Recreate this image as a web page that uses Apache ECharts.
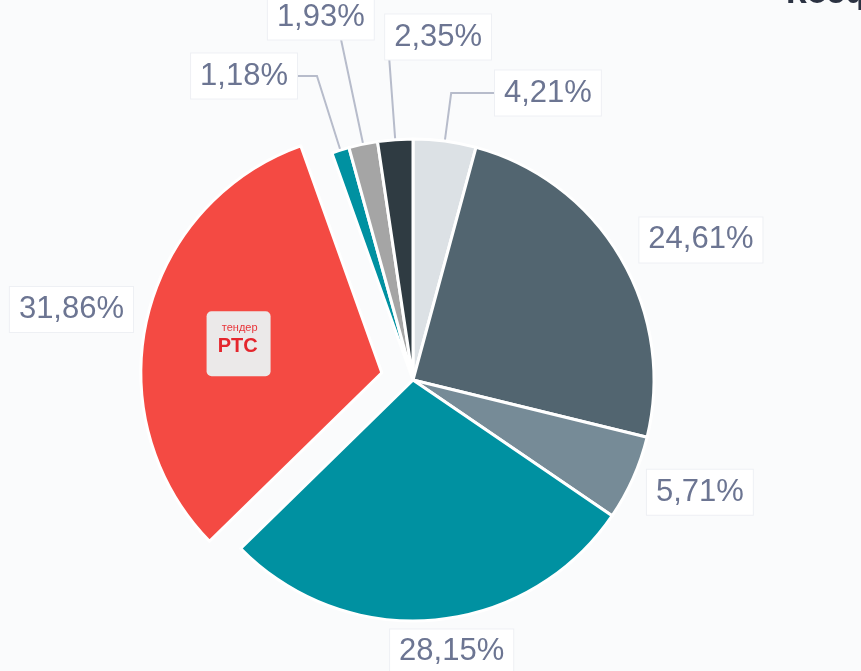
<!DOCTYPE html>
<html>
<head>
<meta charset="utf-8">
<script src="https://cdn.jsdelivr.net/npm/echarts@6/dist/echarts.min.js"></script>
<style>
html,body{margin:0;padding:0;background:#fafbfc;}
#c{width:861px;height:671px;}
</style>
</head>
<body>
<div id="c"></div>
<script>
// ---- data ----
var categories = ['Площадка 1','Площадка 2','Площадка 3','Площадка 4','РТС-тендер','Площадка 6','Площадка 7','Площадка 8'];
var values = [4.21, 24.61, 5.71, 28.15, 31.86, 1.18, 1.93, 2.35];
var titleText = 'Коэффициент';

// ---- styles (per slice) ----
var colors = ['#dce1e5','#526570','#768b97','#0091a1','#f44a43','#0091a1','#a5a5a5','#2f3b42'];
var lineLen  = [48.5, 34.6, 34.4, 32, 40.4, 77.8, 130, 102.9];
var lineLen2 = [43.8, -11, -17.6, -46.8, -25.4, 20, -37.5, -103.4];
var lineShow = [true, false, false, false, false, true, true, true];
var explodedIndex = 4;

var chart = echarts.init(document.getElementById('c'), null, {renderer:'canvas'});

var mainData = values.map(function(v, i){
  return {
    name: categories[i], value: v, selected: i === explodedIndex,
    itemStyle: {color: colors[i]},
    labelLine: {show: lineShow[i], length: lineLen[i], length2: lineLen2[i]}
  };
});
var logoData = values.map(function(v, i){
  return {
    name: categories[i], value: v, selected: i === explodedIndex,
    label: {show: i === explodedIndex}
  };
});

chart.setOption({
  animation: false,
  backgroundColor: '#fafbfc',
  graphic: [{
    type: 'text',
    style: {text: titleText, x: 786, y: -6, verticalAlign: 'middle', align: 'left',
            font: 'bold 34px "Liberation Sans", Arial, sans-serif', fill: '#2b3242'}
  }],
  series: [{
    type: 'pie',
    center: [413, 380],
    radius: [0, 241],
    startAngle: 90,
    clockwise: true,
    avoidLabelOverlap: false,
    selectedMode: 'single',
    selectedOffset: 32,
    itemStyle: {borderColor: '#ffffff', borderWidth: 3},
    label: {
      show: true,
      position: 'outside',
      distanceToLabelLine: 0,
      formatter: function(p){ return p.value.toFixed(2).replace('.', ',') + '%'; },
      fontFamily: '"Liberation Sans", Arial, sans-serif',
      fontSize: 31,
      lineHeight: 31,
      color: '#6c7592',
      backgroundColor: '#ffffff',
      borderColor: '#eef0f4',
      borderWidth: 1,
      padding: [7, 9]
    },
    labelLine: {
      lineStyle: {color: '#b7bccb', width: 2},
      minTurnAngle: 0,
      maxSurfaceAngle: 180
    },
    emphasis: {disabled: true},
    data: mainData
  }, {
    type: 'pie',
    silent: true,
    center: [413, 384],
    radius: [0, 288],
    startAngle: 90,
    clockwise: true,
    avoidLabelOverlap: false,
    selectedMode: 'single',
    selectedOffset: 32,
    itemStyle: {color: 'rgba(0,0,0,0)', borderWidth: 0},
    labelLine: {show: false},
    label: {
      show: false,
      position: 'inside',
      formatter: '{a|тендер}\n{b|РТС}',
      backgroundColor: '#ebe9e9',
      borderRadius: 5,
      width: 42,
      padding: [10, 13, 19, 9],
      rich: {
        a: {fontFamily: '"Liberation Sans", Arial, sans-serif', fontSize: 11, lineHeight: 14, color: '#e8353a', align: 'right'},
        b: {fontFamily: '"Liberation Sans", Arial, sans-serif', fontSize: 20, fontWeight: 'bold', lineHeight: 22, color: '#e4262d', align: 'right'}
      }
    },
    emphasis: {disabled: true},
    data: logoData
  }]
});
</script>
</body>
</html>
